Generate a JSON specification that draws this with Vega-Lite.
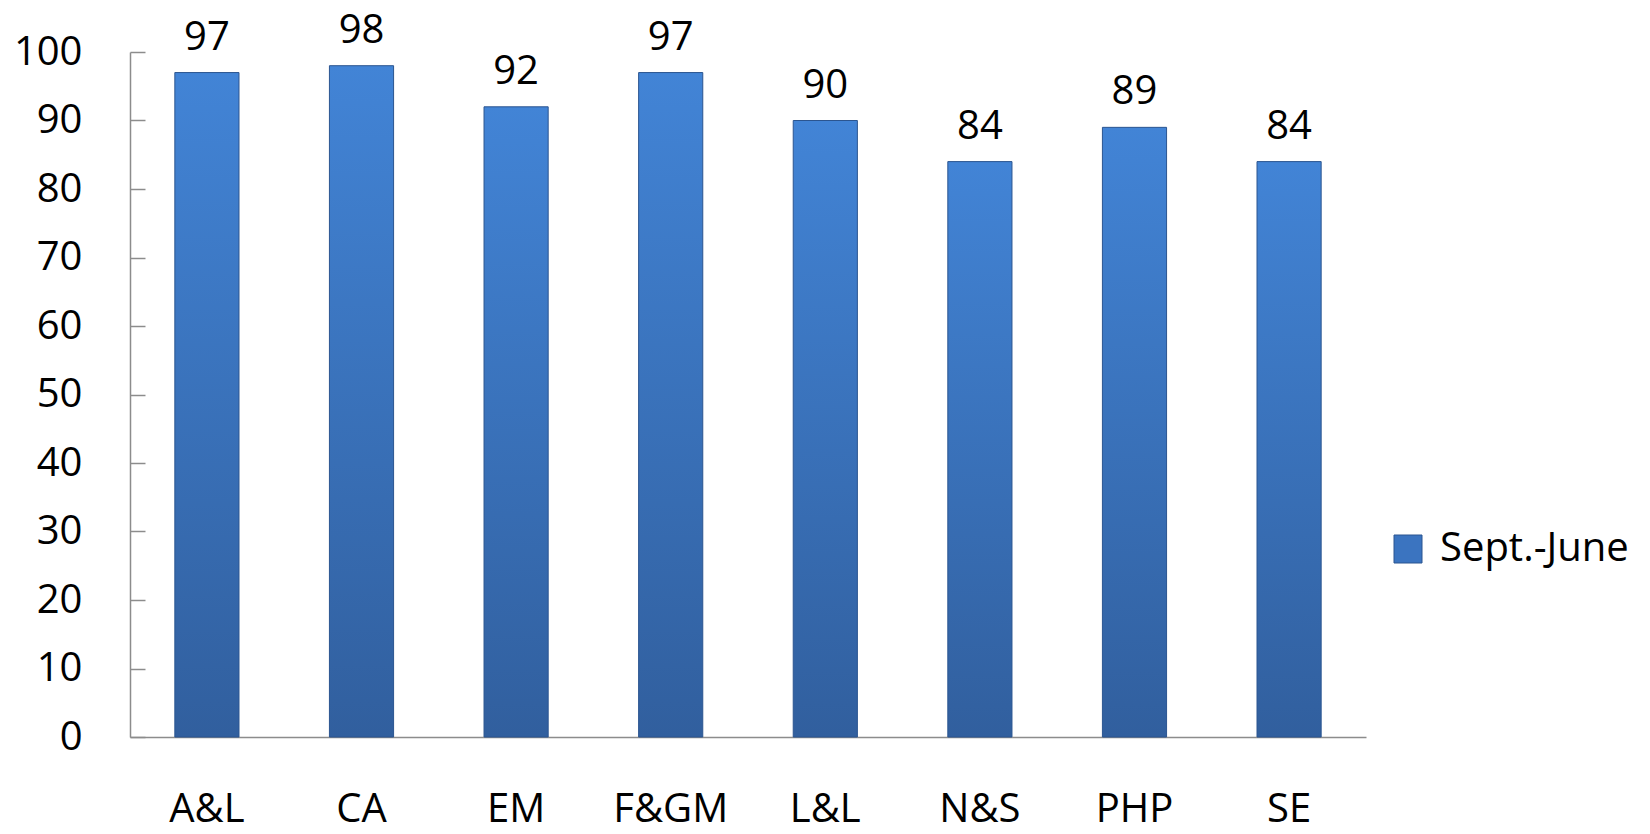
{
  "$schema": "https://vega.github.io/schema/vega-lite/v6.json",
  "autosize": "none",
  "width": 1236,
  "height": 685,
  "padding": {"left": 130, "top": 52, "right": 284, "bottom": 97},
  "background": "white",
  "config": {"view": {"stroke": null}, "font": "Open Sans"},
  "data": {"values": [
    {"cat": "A&L", "value": 97, "series": "Sept.-June"},
    {"cat": "CA", "value": 98, "series": "Sept.-June"},
    {"cat": "EM", "value": 92, "series": "Sept.-June"},
    {"cat": "F&GM", "value": 97, "series": "Sept.-June"},
    {"cat": "L&L", "value": 90, "series": "Sept.-June"},
    {"cat": "N&S", "value": 84, "series": "Sept.-June"},
    {"cat": "PHP", "value": 89, "series": "Sept.-June"},
    {"cat": "SE", "value": 84, "series": "Sept.-June"}
  ]},
  "encoding": {
    "x": {"field": "cat", "type": "nominal", "sort": null,
      "scale": {"paddingInner": 0.585, "paddingOuter": 0.29},
      "axis": {"title": null, "labelAngle": 0, "labelFontSize": 40, "labelColor": "#000000", "labelFont": "Open Sans",
        "ticks": false, "labelPadding": 52, "domainColor": "#8c8c8c", "domainWidth": 1.5}},
    "y": {"field": "value", "type": "quantitative",
      "scale": {"domain": [0, 100], "nice": false},
      "axis": {"title": null, "values": [0,10,20,30,40,50,60,70,80,90,100], "grid": false,
        "labelFontSize": 40, "labelColor": "#000000", "labelFont": "Open Sans",
        "tickSize": -15, "labelPadding": 63, "tickColor": "#8c8c8c", "domainColor": "#8c8c8c", "domainWidth": 1.5, "tickWidth": 1.5}}
  },
  "layer": [
    {
      "mark": {"type": "square", "size": 0, "opacity": 1},
      "encoding": {
        "color": {"field": "series", "type": "nominal",
          "scale": {"range": ["#3b74c0"]},
          "legend": {"title": null, "orient": "none", "legendX": 1258, "legendY": 477,
            "symbolType": "square", "symbolSize": 784, "symbolOpacity": 1, "symbolStrokeColor": "#2b5590", "symbolStrokeWidth": 1,
            "labelFontSize": 40, "labelColor": "#000000", "labelFont": "Open Sans", "labelOffset": 12, "labelLimit": 400}}
      }
    },
    {
      "mark": {"type": "bar", "stroke": "#2b5590", "strokeWidth": 1},
      "encoding": {
        "color": {"value": {"gradient": "linear", "x1": 0, "y1": 0, "x2": 0, "y2": 1, "stops": [{"offset": 0, "color": "#4284d6"}, {"offset": 1, "color": "#315f9e"}]}}
      }
    },
    {
      "mark": {"type": "text", "baseline": "alphabetic", "dy": -23, "fontSize": 40, "font": "Open Sans", "color": "#000000"},
      "encoding": {"text": {"field": "value", "type": "quantitative"}}
    }
  ]
}
